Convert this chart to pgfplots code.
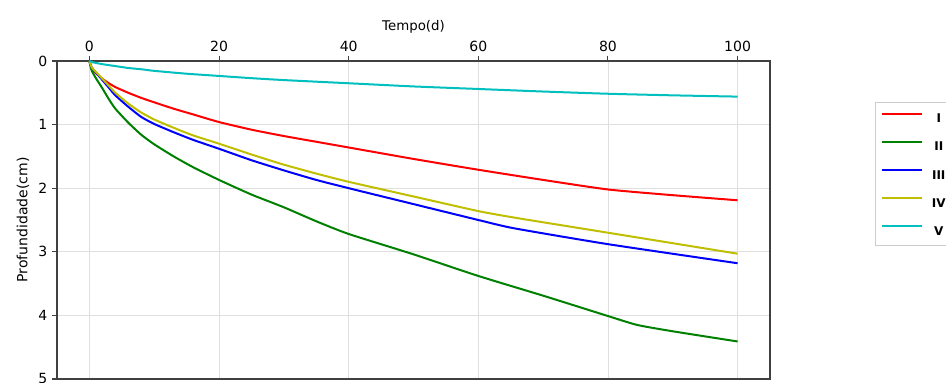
\documentclass[border=0pt]{standalone}
\usepackage{fontspec}
\setmainfont{DejaVu Sans}
\usepackage{pgfplots}
\pgfplotsset{compat=1.18}
\definecolor{mr}{rgb}{1,0,0}
\definecolor{mg}{rgb}{0,0.5,0}
\definecolor{mb}{rgb}{0,0,1}
\definecolor{my}{rgb}{0.75,0.75,0}
\definecolor{mc}{rgb}{0,0.75,0.75}
\begin{document}
\begin{tikzpicture}
\begin{axis}[
  name=ax,
  width=534.75pt, height=238.5pt, scale only axis,
  xmin=-5, xmax=105, ymin=0, ymax=5,
  y dir=reverse,
  xtick={0,20,40,60,80,100}, ytick={0,1,2,3,4,5},
  xticklabel pos=top, xtick pos=top, ytick pos=left,
  tick align=outside, major tick length=3.75pt,
  tick style={black!75, line width=0.8pt},
  axis line style={black!75, line width=1pt},
  grid=major, grid style={gray!25, line width=0.6pt},
  xlabel={Tempo(d)}, ylabel={Profundidade(cm)},
  xlabel style={font=\fontsize{10}{12}\selectfont, yshift=-1pt},
  ylabel style={font=\fontsize{10.5}{12}\selectfont},
  ticklabel style={font=\fontsize{10.5}{12}\selectfont},
  /pgf/number format/assume math mode=true,
  every axis plot/.append style={line width=1.5pt, smooth, tension=0.35},
  legend style={at={(1.147,0.645)}, anchor=west, draw=gray!40, line width=0.6pt,
    font=\bfseries\fontsize{9}{10}\selectfont,
    nodes={inner sep=0pt, text height=7pt, text depth=0pt},
    row sep=13.3pt, column sep=7pt, inner xsep=4pt, inner ysep=8pt},
  legend cell align=center,
  legend image code/.code={\draw[#1, sharp plot] (0pt,3.5pt) -- (30pt,3.5pt);},
]
\addplot[mr] coordinates {(0,0) (0.25,0.09) (0.5,0.13) (1,0.19) (2,0.28) (3,0.35) (4,0.41) (6,0.5) (8,0.58) (10,0.65) (13,0.75) (16,0.84) (20,0.96) (25,1.08) (30,1.18) (35,1.27) (40,1.36) (50,1.54) (60,1.71) (70,1.87) (80,2.02) (90,2.11) (100,2.19)};
\addlegendentry{I}
\addplot[mg] coordinates {(0,0) (0.25,0.12) (0.5,0.18) (1,0.27) (2,0.43) (3,0.6) (4,0.75) (6,0.97) (8,1.16) (10,1.31) (13,1.5) (16,1.67) (20,1.87) (25,2.1) (30,2.3) (35,2.52) (40,2.72) (50,3.04) (60,3.38) (70,3.69) (80,4.01) (84.5,4.15) (90,4.25) (100,4.41)};
\addlegendentry{II}
\addplot[mb] coordinates {(0,0) (0.25,0.08) (0.5,0.12) (1,0.18) (2,0.3) (3,0.42) (4,0.54) (6,0.72) (8,0.88) (10,0.99) (13,1.12) (16,1.24) (20,1.38) (25,1.56) (30,1.72) (35,1.87) (40,2.0) (50,2.25) (60,2.5) (65.5,2.63) (80,2.88) (100,3.18)};
\addlegendentry{III}
\addplot[my] coordinates {(0,0) (0.25,0.08) (0.5,0.12) (1,0.17) (2,0.28) (3,0.39) (4,0.5) (6,0.67) (8,0.81) (10,0.92) (13,1.05) (16,1.17) (20,1.3) (25,1.47) (30,1.63) (35,1.77) (40,1.9) (50,2.13) (60,2.36) (66,2.47) (80,2.7) (100,3.03)};
\addlegendentry{IV}
\addplot[mc] coordinates {(0,0) (0.5,0.02) (1,0.03) (2,0.05) (4,0.08) (6,0.11) (8,0.13) (10,0.155) (15,0.2) (20,0.235) (25,0.27) (30,0.3) (40,0.35) (50,0.4) (60,0.44) (70,0.48) (80,0.515) (90,0.54) (100,0.56)};
\addlegendentry{V}
\end{axis}
\pgfresetboundingbox
\path[use as bounding box] ([xshift=-42.75pt,yshift=-3pt]ax.south west) rectangle ([xshift=132pt,yshift=45.75pt]ax.north east);
\end{tikzpicture}
\end{document}
